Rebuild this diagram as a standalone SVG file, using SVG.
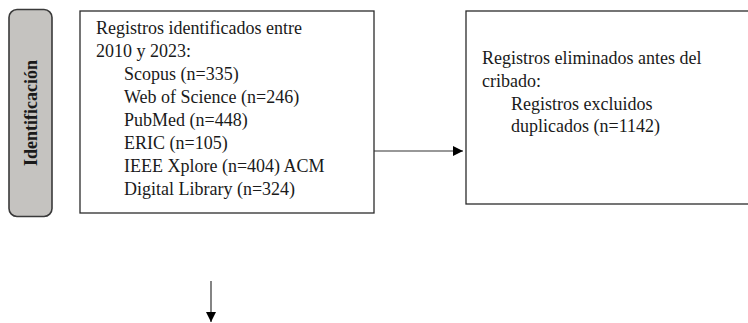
<svg xmlns="http://www.w3.org/2000/svg" width="748" height="323" viewBox="0 0 748 323">
<defs>
<style>
.box{fill:#ffffff;stroke:#2b2b2b;stroke-width:1.3}
.side{fill:#c5c3c0;stroke:#3a3a3a;stroke-width:1.6}
.t{font-family:"Liberation Serif","Times New Roman",serif;font-size:18px;fill:#1a1a1a}
.lbl{font-family:"Liberation Serif","Times New Roman",serif;font-size:18px;font-weight:bold;fill:#1a1a1a}
.conn{stroke:#333333;stroke-width:1.2;fill:none}
</style>
<marker id="ah" viewBox="0 0 10 10" refX="10" refY="5" markerWidth="10" markerHeight="10" markerUnits="userSpaceOnUse" orient="auto">
<path d="M0,0 L10,5 L0,10 z" fill="#000000"/>
</marker>
</defs>
<g id="fase-identificacion">
<rect class="side" x="9" y="9.5" width="43" height="207" rx="8" ry="8"/>
<text class="lbl" transform="translate(36.5,113) rotate(-90)" text-anchor="middle">Identificación</text>
</g>
<g id="registros-identificados">
<rect class="box" x="80" y="11" width="294" height="202"/>
<text class="t" x="96" y="34.3">Registros identificados entre</text>
<text class="t" x="96" y="57.3">2010 y 2023:</text>
<text class="t" x="124" y="80.3">Scopus (n=335)</text>
<text class="t" x="124" y="103.3">Web of Science (n=246)</text>
<text class="t" x="124" y="126.3">PubMed (n=448)</text>
<text class="t" x="124" y="149.3">ERIC (n=105)</text>
<text class="t" x="124" y="172.3">IEEE Xplore (n=404) ACM</text>
<text class="t" x="124" y="195.3">Digital Library (n=324)</text>
</g>
<g id="registros-eliminados">
<rect class="box" x="466" y="11" width="290" height="193"/>
<text class="t" x="482" y="64.3">Registros eliminados antes del</text>
<text class="t" x="482" y="87">cribado:</text>
<text class="t" x="511" y="109.7">Registros excluidos</text>
<text class="t" x="511" y="132.4">duplicados (n=1142)</text>
</g>
<g id="connectors">
<line class="conn" x1="374" y1="151" x2="463" y2="151" marker-end="url(#ah)"/>
<line class="conn" x1="211" y1="281" x2="211" y2="322" marker-end="url(#ah)"/>
</g>
</svg>
